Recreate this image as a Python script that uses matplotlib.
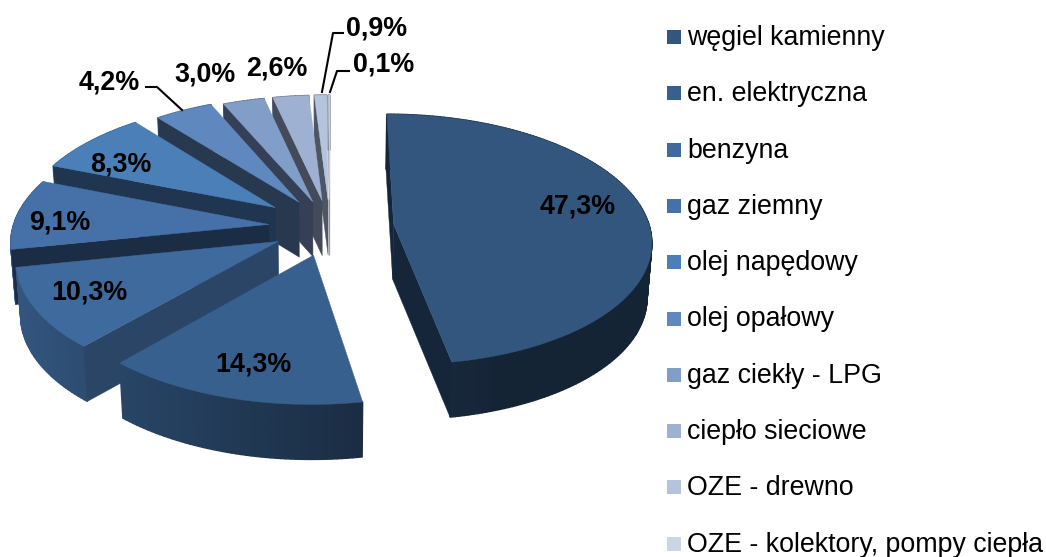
#!/usr/bin/env python3
import numpy as np
import matplotlib
matplotlib.use('Agg')
import matplotlib.pyplot as plt
from matplotlib.colors import to_rgb
from matplotlib.patches import Rectangle

plt.rcParams['font.family'] = ['Liberation Sans', 'DejaVu Sans']

categories = ['węgiel kamienny', 'en. elektryczna', 'benzyna', 'gaz ziemny', 'olej napędowy',
              'olej opałowy', 'gaz ciekły - LPG', 'ciepło sieciowe', 'OZE - drewno',
              'OZE - kolektory, pompy ciepła']
values = [47.3, 14.3, 10.3, 9.1, 8.3, 4.2, 3.0, 2.6, 0.9, 0.1]
top_colors = ['#33567f', '#38608f', '#3f6a9d', '#4670a8', '#4a7fb8',
              '#5f88bf', '#819ec9', '#9fb1d2', '#b5c3dd', '#cbd5e6']
wall_colors = ['#15253a', '#1f3048', '#2b4566', '#1b2d45', '#1f3550',
               '#28384f', '#353f55', '#434b5a', '#4e5563', '#8a90a0']
explode = [0.25, 0.23, 0.23, 0.24, 0.27, 0.24, 0.22, 0.22, 0.22, 0.22]
label_pos = [(578, 206), (253, 364), (89, 292), (60, 222), (121, 165),
             (109, 83), (205, 74), (277, 69), (377, 28), (384, 64)]
leaders = {5: [(146, 87), (157, 87), (182, 110)],
           8: [(343, 33), (333, 33), (322, 92)],
           9: [(349, 71), (337, 71), (330, 92)]}

CX, CY = 330, 227
RX, RY = 256, 124
PERSP = 0.12
DEPTH = 55
SHRINK = 0.985


def project(x, y):
    s = 1 / (1 + PERSP * y)
    return CX + x * s * RX, CY - y * s * RY


def drop(px, py):
    return CX + (px - CX) * SHRINK, py + DEPTH


def area(xs, ys):
    return sum(xs[i] * ys[(i + 1) % 4] - xs[(i + 1) % 4] * ys[i] for i in range(4))


def draw_slice(ax, t0, t1, top, wall, ex):
    mid = (t0 + t1) / 2
    ox, oy = ex * np.sin(mid), ex * np.cos(mid)
    ts = np.linspace(t0, t1, max(int((t1 - t0) * 60), 3))
    ax_pts = project(ox, oy)
    px, py = project(ox + np.sin(ts), oy + np.cos(ts))
    bx, by = drop(px, py)
    abx, aby = drop(*ax_pts)

    rgb = np.array(to_rgb(top))
    for i in range(len(ts) - 1):
        f = np.clip(0.52 - 0.3 * np.sin(ts[i]), 0.42, 0.9)
        ax.fill([px[i], px[i + 1], bx[i + 1], bx[i]], [py[i], py[i + 1], by[i + 1], by[i]],
                color=rgb * f, lw=1, zorder=1)

    # only the radial walls that face the viewer
    for i, sign in ((0, -1), (-1, 1)):
        xs = [ax_pts[0], px[i], bx[i], abx]
        ys = [ax_pts[1], py[i], by[i], aby]
        if area(xs, ys) * sign > 0:
            ax.fill(xs, ys, color=wall, lw=0.3, zorder=1)
    ax.fill(np.r_[ax_pts[0], px], np.r_[ax_pts[1], py], color=top, lw=0.3, zorder=1)


fig = plt.figure(figsize=(10.46, 5.57), dpi=100)
ax = fig.add_axes([0, 0, 1, 1])
ax.set_xlim(0, 1046)
ax.set_ylim(557, 0)
ax.axis('off')

edges = np.r_[0, np.cumsum(values)] / sum(values) * 2 * np.pi
for i in range(len(values) - 1, -1, -1):
    draw_slice(ax, edges[i], edges[i + 1], top_colors[i], wall_colors[i], explode[i])

for pts in leaders.values():
    xs, ys = zip(*pts)
    ax.plot(xs, ys, color='black', lw=1.5, zorder=3)

for v, (x, y) in zip(values, label_pos):
    ax.text(x, y, f'{v:.1f}%'.replace('.', ','), fontsize=19.4, fontweight='bold',
            ha='center', va='center', color='black', zorder=4)

for i, name in enumerate(categories):
    y = 37 + i * 56.3
    ax.add_patch(Rectangle((667, y - 7), 14, 14, color=top_colors[i], lw=0))
    ax.text(687, y + 1, name, fontsize=19.25, ha='left', va='center', color='black')

fig.savefig('out.png', dpi=100)
